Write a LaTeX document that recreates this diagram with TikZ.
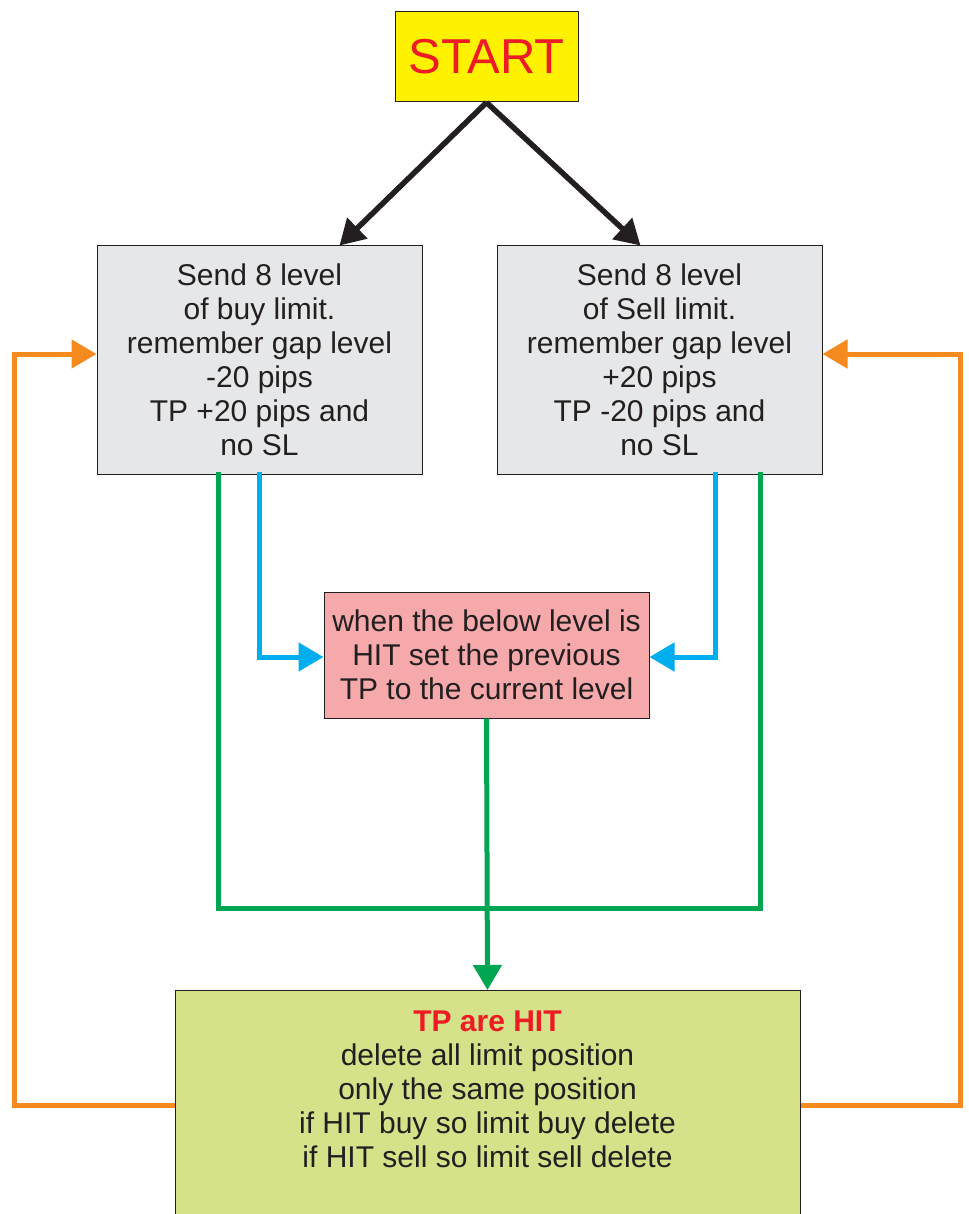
\documentclass[tikz,border=0pt]{standalone}
\usepackage{fontspec}
\setmainfont{Liberation Sans}
\usepackage{tikz}
\usetikzlibrary{calc,arrows.meta,positioning,shapes}

\definecolor{startfill}{HTML}{FFF200}
\definecolor{startred}{HTML}{ED1C24}
\definecolor{limitfill}{HTML}{E6E7E8}
\definecolor{movefill}{HTML}{F5A9AB}
\definecolor{hitfill}{HTML}{D5E28A}
\definecolor{edgeblack}{HTML}{231F20}
\definecolor{moveblue}{HTML}{00AEEF}
\definecolor{joingreen}{HTML}{00A651}
\definecolor{backorange}{HTML}{F58A1F}

\tikzset{
  box/.style={draw=edgeblack, line width=1pt, align=center, inner sep=0pt,
    font=\fontsize{30}{34}\selectfont, text=edgeblack},
  startbox/.style={box, fill=startfill, text=startred,
    minimum width=183pt, minimum height=90pt, font=\fontsize{49}{54}\selectfont},
  limitbox/.style={box, fill=limitfill, minimum width=325pt, minimum height=228pt},
  movebox/.style={box, fill=movefill, minimum width=325pt, minimum height=126pt},
  hitbox/.style={box, fill=hitfill, minimum width=625pt, minimum height=230pt},
  flow/.style={line width=5pt, -{Triangle[length=25pt,width=28pt]}},
  blackline/.style={flow, draw=edgeblack, line width=5.5pt},
  blueline/.style={flow, draw=moveblue, line cap=rect},
  greenline/.style={line width=5pt, draw=joingreen, line cap=rect},
  orangeline/.style={flow, draw=backorange}
}

\begin{document}
\begin{tikzpicture}[x=1pt, y=-1pt]
\useasboundingbox (0,0) rectangle (968,1214);

\node[startbox] (start) at (486.5,57) {\raisebox{-1pt}{START}};
\node[limitbox] (buy) at (259.5,360) {Send 8 level\\of buy limit.\\remember gap level\\-20 pips\\TP +20 pips and\\no SL};
\node[limitbox] (sell) at (659.5,360) {Send 8 level\\of Sell limit.\\remember gap level\\+20 pips\\TP -20 pips and\\no SL};
\node[movebox] (move) at (486.5,655) {when the below level is\\HIT set the previous\\TP to the current level};
\node[hitbox, anchor=north] (hit) at (487.5,990) {};
\node[anchor=north, align=center, inner sep=0pt, text=edgeblack,
  font=\fontsize{30}{34}\selectfont] (hittext) at (487.5,1011)
  {\textcolor{startred}{\textbf{TP are HIT}}\\delete all limit position\\only the same position\\if HIT buy so limit buy delete\\if HIT sell so limit sell delete};

\coordinate (join) at (486.5,908);
\coordinate (lout) at (14,1105);
\coordinate (rout) at (960,1105);

\draw[blackline] (start.south) -- ([xshift=80pt]buy.north);
\draw[blackline] (start.south) -- ([xshift=-19pt]sell.north);

\draw[blueline] (buy.south) |- ([yshift=-2pt]move.west);
\draw[blueline] ([xshift=56pt]sell.south) |- ([yshift=-2pt]move.east);

\draw[greenline] ([xshift=-41.5pt]buy.south) |- (join) -| ([xshift=100.5pt]sell.south);
\draw[greenline, flow, line cap=butt] (move.south) -- (hit.north);

\draw[orangeline] (hit.west |- lout) -- (lout) |- ([yshift=6pt]buy.west);
\draw[orangeline] (hit.east |- rout) -- (rout) |- ([yshift=6pt]sell.east);
\end{tikzpicture}
\end{document}
